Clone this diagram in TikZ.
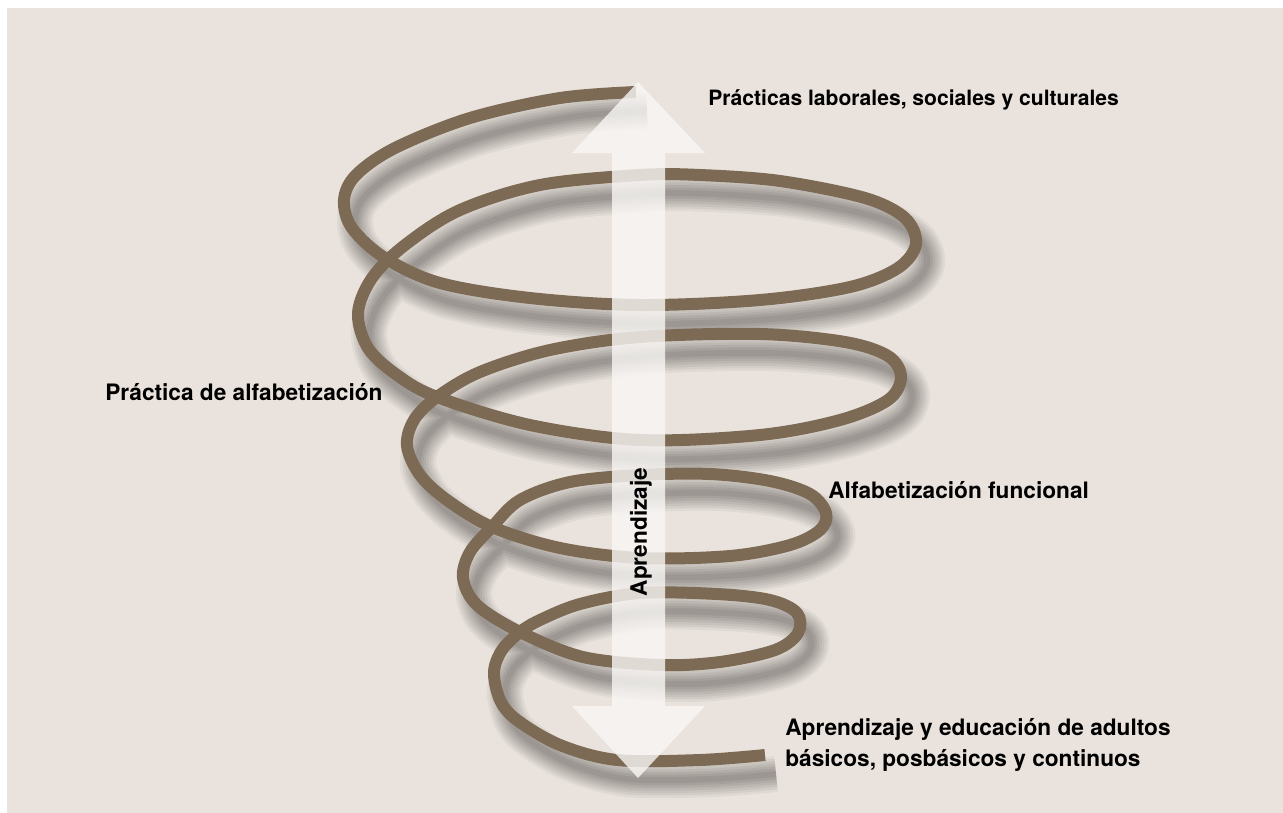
\documentclass[tikz,border=0pt]{standalone}
\usepackage{fontspec}
\setmainfont{TeX Gyre Heros}
\usetikzlibrary{positioning}
\definecolor{bgbeige}{HTML}{EAE3DD}
\definecolor{spiralbrown}{HTML}{7C6A54}
\definecolor{arrowwhite}{HTML}{F8F6F4}
\tikzset{
  label/.style={font=\bfseries\fontsize{12.9}{18}\selectfont, inner sep=0pt, anchor=west, align=left},
}
\begin{document}
\begin{tikzpicture}[x=0.02cm, y=-0.02cm]
    \useasboundingbox (0,0) rectangle (1283,812);
    \fill [white] (0,0) rectangle (1283,812);
    \fill [bgbeige] (7,8) rectangle (1295,825);

    % soft shadow layers first, the brown line last
    \foreach \w/\o/\c/\s in {36/0.045/black/1, 31/0.05/black/1, 26/0.05/black/1, 21/0.055/black/1,
                             16/0.055/black/1, 11/0.06/black/1, 6/0.06/black/1, 12/1/spiralbrown/0}
    \draw [\c, opacity=\o, line width=\w*0.02cm, shift={(\s*11,\s*19)}]
      plot [smooth, tension=.55] coordinates {
        (636,92) (560,98) (470,118) (395,148) (356,175) (344,200) (352,228)
        (385,258) (440,283) (530,298) (640,305) (760,300) (850,287) (898,268)
        (916,244) (905,218) (865,198) (780,181) (700,175) (640,175) (540,185)
        (460,210) (405,245) (372,278) (358,313) (368,348) (397,375) (437,397)
        (530,425) (640,440) (760,435) (840,420) (888,400) (901,377) (888,356)
        (845,342) (760,334) (640,337) (550,350) (480,372) (437,397) (414,420)
        (407,446) (420,475) (447,500) (492,527) (560,548) (640,558) (730,556)
        (790,545) (820,530) (826,513) (810,494) (770,481) (710,474) (640,475)
        (570,482) (520,500) (492,527) (470,552) (463,578) (477,605) (520,632)
        (583,657) (660,665) (720,662) (775,650) (798,633) (797,613) (770,600)
        (717,594) (640,593) (580,604) (540,620) (520,632) (502,650) (494,672)
        (500,700) (517,720) (560,745) (617,760) (700,760) (765,755)};

    % learning arrow
    \fill [arrowwhite, opacity=.8] (638,82) -- (705,153) -- (665,153) -- (665,706)
      -- (705,706) -- (638,778) -- (572,706) -- (612,706) -- (612,153)
      -- (572,153) -- cycle;
    \node [label, anchor=center, rotate=90] (aprendizaje) at (641,532) {Aprendizaje};

    \node [label, font=\bfseries\fontsize{12}{18}\selectfont] (practicas) at (708,100) {Prácticas laborales, sociales y culturales};
    \node [label] (alfabetizacion) at (105,392) {Práctica de alfabetización};
    \node [label] (funcional) at (828,490) {Alfabetización funcional};
    \node [label] (adultos) at (785,745) {Aprendizaje y educación de adultos\\básicos, posbásicos y continuos};
\end{tikzpicture}
\end{document}
